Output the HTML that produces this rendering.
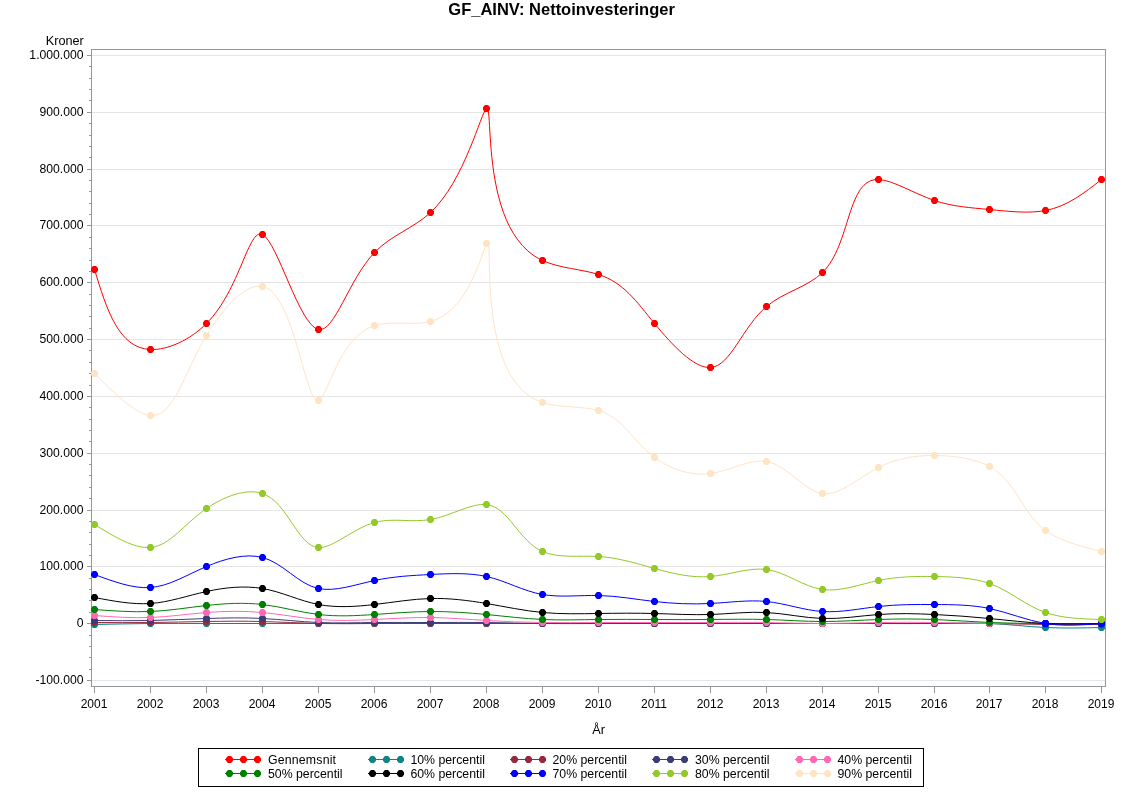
<!DOCTYPE html>
<html lang="da"><head><meta charset="utf-8"><title>GF_AINV: Nettoinvesteringer</title>
<style>html,body{margin:0;padding:0;background:#fff}body{width:1122px;height:793px;overflow:hidden}svg{display:block}text{font-family:"Liberation Sans",Arial,Helvetica,sans-serif;font-size:12.3px;fill:#000}.a{font-size:12.7px}.x{font-size:12px}.y{font-size:12.2px}.t{font-size:16.5px;font-weight:bold}.s path{fill:none;stroke-width:1;stroke-linejoin:round}.s path.m,path.m{fill:inherit;stroke:none}</style>
</head><body>
<svg width="1122" height="793" viewBox="0 0 1122 793">
<rect width="1122" height="793" fill="#fff"/>
<text class="t" x="561.6" y="14.5" text-anchor="middle">GF_AINV: Nettoinvesteringer</text>
<text x="83.8" y="45" text-anchor="end" class="a">Kroner</text>
<path d="M92,55.5H1105M92,112.5H1105M92,169.5H1105M92,225.5H1105M92,282.5H1105M92,339.5H1105M92,396.5H1105M92,453.5H1105M92,510.5H1105M92,566.5H1105M92,623.5H1105M92,680.5H1105" stroke="#e5e5e5" stroke-width="1" fill="none" shape-rendering="crispEdges"/>
<path d="M87,55.5H92M89,66.5H92M89,78.5H92M89,89.5H92M89,100.5H92M87,112.5H92M89,123.5H92M89,135.5H92M89,146.5H92M89,157.5H92M87,169.5H92M89,180.5H92M89,191.5H92M89,203.5H92M89,214.5H92M87,225.5H92M89,237.5H92M89,248.5H92M89,260.5H92M89,271.5H92M87,282.5H92M89,294.5H92M89,305.5H92M89,316.5H92M89,328.5H92M87,339.5H92M89,350.5H92M89,362.5H92M89,373.5H92M89,385.5H92M87,396.5H92M89,407.5H92M89,419.5H92M89,430.5H92M89,441.5H92M87,453.5H92M89,464.5H92M89,475.5H92M89,487.5H92M89,498.5H92M87,510.5H92M89,521.5H92M89,532.5H92M89,544.5H92M89,555.5H92M87,566.5H92M89,578.5H92M89,589.5H92M89,600.5H92M89,612.5H92M87,623.5H92M89,635.5H92M89,646.5H92M89,657.5H92M89,669.5H92M87,680.5H92M94.5,687V693M150.5,687V693M206.5,687V693M262.5,687V693M318.5,687V693M374.5,687V693M430.5,687V693M486.5,687V693M542.5,687V693M598.5,687V693M654.5,687V693M710.5,687V693M766.5,687V693M822.5,687V693M878.5,687V693M934.5,687V693M989.5,687V693M1045.5,687V693M1101.5,687V693" stroke="#92999e" stroke-width="1" fill="none" shape-rendering="crispEdges"/>
<rect x="91.5" y="49.5" width="1014" height="637" fill="none" stroke="#92999e" stroke-width="1" shape-rendering="crispEdges"/>
<text class="y" x="83.6" y="59" text-anchor="end">1.000.000</text>
<text class="y" x="83.6" y="116" text-anchor="end">900.000</text>
<text class="y" x="83.6" y="173" text-anchor="end">800.000</text>
<text class="y" x="83.6" y="229" text-anchor="end">700.000</text>
<text class="y" x="83.6" y="286" text-anchor="end">600.000</text>
<text class="y" x="83.6" y="343" text-anchor="end">500.000</text>
<text class="y" x="83.6" y="400" text-anchor="end">400.000</text>
<text class="y" x="83.6" y="457" text-anchor="end">300.000</text>
<text class="y" x="83.6" y="514" text-anchor="end">200.000</text>
<text class="y" x="83.6" y="570" text-anchor="end">100.000</text>
<text class="y" x="83.6" y="627" text-anchor="end">0</text>
<text class="y" x="83.6" y="684" text-anchor="end">-100.000</text>
<text class="x" x="94" y="708" text-anchor="middle">2001</text>
<text class="x" x="150" y="708" text-anchor="middle">2002</text>
<text class="x" x="206" y="708" text-anchor="middle">2003</text>
<text class="x" x="262" y="708" text-anchor="middle">2004</text>
<text class="x" x="318" y="708" text-anchor="middle">2005</text>
<text class="x" x="374" y="708" text-anchor="middle">2006</text>
<text class="x" x="430" y="708" text-anchor="middle">2007</text>
<text class="x" x="486" y="708" text-anchor="middle">2008</text>
<text class="x" x="542" y="708" text-anchor="middle">2009</text>
<text class="x" x="598" y="708" text-anchor="middle">2010</text>
<text class="x" x="654" y="708" text-anchor="middle">2011</text>
<text class="x" x="710" y="708" text-anchor="middle">2012</text>
<text class="x" x="766" y="708" text-anchor="middle">2013</text>
<text class="x" x="822" y="708" text-anchor="middle">2014</text>
<text class="x" x="878" y="708" text-anchor="middle">2015</text>
<text class="x" x="934" y="708" text-anchor="middle">2016</text>
<text class="x" x="989" y="708" text-anchor="middle">2017</text>
<text class="x" x="1045" y="708" text-anchor="middle">2018</text>
<text class="x" x="1101" y="708" text-anchor="middle">2019</text>
<text x="598.6" y="734" text-anchor="middle" class="a">År</text>
<g class="s" stroke="#FF0000" fill="#FF0000">
<path d="M94.5,269.5C106.5,308.9 118.5,348.3 150.5,349.5C167.5,350.2 190,340.1 206.5,323.5C240.4,289.4 248.3,227.6 262.5,234.5C277.5,241.8 299.4,325.6 318.5,329.5C334.6,332.8 348.6,279.5 374.5,252.5C391.3,235 413.2,228.5 430.5,212.5C464.7,180.8 481.2,111.6 486.5,108.5C494,104.1 479.5,231.4 542.5,260.5C559.3,268.3 581.7,269.1 598.5,274.5C623.7,282.6 636.2,301.2 654.5,323.5C671.7,344.4 694,368.6 710.5,367.5C730.8,366.2 742.4,326.8 766.5,306.5C783.8,291.9 807.6,287.2 822.5,272.5C851.3,244.1 846.6,178.5 878.5,179.5C892.6,180 913.9,193.5 934.5,200.5C952.8,206.7 970.5,207.7 989.5,209.5C1008.3,211.3 1028.4,213.8 1045.5,210.5C1067.3,206.4 1084.4,192.9 1101.5,179.5"/>
<path class="m" d="M92.9,266h3.2l1.9,2.2v2.6l-1.9,2.2h-3.2l-1.9,-2.2v-2.6zM148.9,346h3.2l1.9,2.2v2.6l-1.9,2.2h-3.2l-1.9,-2.2v-2.6zM204.9,320h3.2l1.9,2.2v2.6l-1.9,2.2h-3.2l-1.9,-2.2v-2.6zM260.9,231h3.2l1.9,2.2v2.6l-1.9,2.2h-3.2l-1.9,-2.2v-2.6zM316.9,326h3.2l1.9,2.2v2.6l-1.9,2.2h-3.2l-1.9,-2.2v-2.6zM372.9,249h3.2l1.9,2.2v2.6l-1.9,2.2h-3.2l-1.9,-2.2v-2.6zM428.9,209h3.2l1.9,2.2v2.6l-1.9,2.2h-3.2l-1.9,-2.2v-2.6zM484.9,105h3.2l1.9,2.2v2.6l-1.9,2.2h-3.2l-1.9,-2.2v-2.6zM540.9,257h3.2l1.9,2.2v2.6l-1.9,2.2h-3.2l-1.9,-2.2v-2.6zM596.9,271h3.2l1.9,2.2v2.6l-1.9,2.2h-3.2l-1.9,-2.2v-2.6zM652.9,320h3.2l1.9,2.2v2.6l-1.9,2.2h-3.2l-1.9,-2.2v-2.6zM708.9,364h3.2l1.9,2.2v2.6l-1.9,2.2h-3.2l-1.9,-2.2v-2.6zM764.9,303h3.2l1.9,2.2v2.6l-1.9,2.2h-3.2l-1.9,-2.2v-2.6zM820.9,269h3.2l1.9,2.2v2.6l-1.9,2.2h-3.2l-1.9,-2.2v-2.6zM876.9,176h3.2l1.9,2.2v2.6l-1.9,2.2h-3.2l-1.9,-2.2v-2.6zM932.9,197h3.2l1.9,2.2v2.6l-1.9,2.2h-3.2l-1.9,-2.2v-2.6zM987.9,206h3.2l1.9,2.2v2.6l-1.9,2.2h-3.2l-1.9,-2.2v-2.6zM1043.9,207h3.2l1.9,2.2v2.6l-1.9,2.2h-3.2l-1.9,-2.2v-2.6zM1099.9,176h3.2l1.9,2.2v2.6l-1.9,2.2h-3.2l-1.9,-2.2v-2.6z"/>
</g>
<g class="s" stroke="#0A8686" fill="#0A8686">
<path d="M94.5,624.5C113.2,624.1 131.8,623.7 150.5,623.5C169.2,623.3 187.8,623.5 206.5,623.5C225.2,623.5 243.8,623.5 262.5,623.5C281.2,623.5 299.8,623.5 318.5,623.5C337.2,623.5 355.8,623.5 374.5,623.5C393.2,623.5 411.8,623.5 430.5,623.5C449.2,623.5 467.8,623.5 486.5,623.5C505.2,623.5 523.8,623.5 542.5,623.5C561.2,623.5 579.8,623.5 598.5,623.5C617.2,623.5 635.8,623.5 654.5,623.5C673.2,623.5 691.8,623.5 710.5,623.5C729.2,623.5 747.8,623.5 766.5,623.5C785.2,623.5 803.8,623.5 822.5,623.5C841.2,623.5 859.8,623.4 878.5,623.5C897.2,623.6 915.8,623.7 934.5,623.5C952.8,623.3 971.2,622.7 989.5,623.5C1008.2,624.3 1026.8,626.6 1045.5,627.5C1064.1,628.4 1082.8,628 1101.5,627.5"/>
<path class="m" d="M92.9,621h3.2l1.9,2.2v2.6l-1.9,2.2h-3.2l-1.9,-2.2v-2.6zM148.9,620h3.2l1.9,2.2v2.6l-1.9,2.2h-3.2l-1.9,-2.2v-2.6zM204.9,620h3.2l1.9,2.2v2.6l-1.9,2.2h-3.2l-1.9,-2.2v-2.6zM260.9,620h3.2l1.9,2.2v2.6l-1.9,2.2h-3.2l-1.9,-2.2v-2.6zM316.9,620h3.2l1.9,2.2v2.6l-1.9,2.2h-3.2l-1.9,-2.2v-2.6zM372.9,620h3.2l1.9,2.2v2.6l-1.9,2.2h-3.2l-1.9,-2.2v-2.6zM428.9,620h3.2l1.9,2.2v2.6l-1.9,2.2h-3.2l-1.9,-2.2v-2.6zM484.9,620h3.2l1.9,2.2v2.6l-1.9,2.2h-3.2l-1.9,-2.2v-2.6zM540.9,620h3.2l1.9,2.2v2.6l-1.9,2.2h-3.2l-1.9,-2.2v-2.6zM596.9,620h3.2l1.9,2.2v2.6l-1.9,2.2h-3.2l-1.9,-2.2v-2.6zM652.9,620h3.2l1.9,2.2v2.6l-1.9,2.2h-3.2l-1.9,-2.2v-2.6zM708.9,620h3.2l1.9,2.2v2.6l-1.9,2.2h-3.2l-1.9,-2.2v-2.6zM764.9,620h3.2l1.9,2.2v2.6l-1.9,2.2h-3.2l-1.9,-2.2v-2.6zM820.9,620h3.2l1.9,2.2v2.6l-1.9,2.2h-3.2l-1.9,-2.2v-2.6zM876.9,620h3.2l1.9,2.2v2.6l-1.9,2.2h-3.2l-1.9,-2.2v-2.6zM932.9,620h3.2l1.9,2.2v2.6l-1.9,2.2h-3.2l-1.9,-2.2v-2.6zM987.9,620h3.2l1.9,2.2v2.6l-1.9,2.2h-3.2l-1.9,-2.2v-2.6zM1043.9,624h3.2l1.9,2.2v2.6l-1.9,2.2h-3.2l-1.9,-2.2v-2.6zM1099.9,624h3.2l1.9,2.2v2.6l-1.9,2.2h-3.2l-1.9,-2.2v-2.6z"/>
</g>
<g class="s" stroke="#9A283C" fill="#9A283C">
<path d="M94.5,622.5C113.2,622.6 131.8,622.7 150.5,622.5C169.2,622.3 187.8,621.8 206.5,621.5C225.2,621.2 243.8,621 262.5,621.5C281.2,622 299.8,623.1 318.5,623.5C337.2,623.9 355.8,623.6 374.5,623.5C393.2,623.4 411.8,623.5 430.5,623.5C449.2,623.5 467.8,623.5 486.5,623.5C505.2,623.5 523.8,623.5 542.5,623.5C561.2,623.5 579.8,623.5 598.5,623.5C617.2,623.5 635.8,623.5 654.5,623.5C673.2,623.5 691.8,623.5 710.5,623.5C729.2,623.5 747.8,623.5 766.5,623.5C785.2,623.5 803.8,623.5 822.5,623.5C841.2,623.5 859.8,623.5 878.5,623.5C897.2,623.5 915.8,623.6 934.5,623.5C952.8,623.4 971.2,623.3 989.5,623.5C1008.2,623.7 1026.8,624.3 1045.5,624.5C1064.2,624.7 1082.8,624.6 1101.5,624.5"/>
<path class="m" d="M92.9,619h3.2l1.9,2.2v2.6l-1.9,2.2h-3.2l-1.9,-2.2v-2.6zM148.9,619h3.2l1.9,2.2v2.6l-1.9,2.2h-3.2l-1.9,-2.2v-2.6zM204.9,618h3.2l1.9,2.2v2.6l-1.9,2.2h-3.2l-1.9,-2.2v-2.6zM260.9,618h3.2l1.9,2.2v2.6l-1.9,2.2h-3.2l-1.9,-2.2v-2.6zM316.9,620h3.2l1.9,2.2v2.6l-1.9,2.2h-3.2l-1.9,-2.2v-2.6zM372.9,620h3.2l1.9,2.2v2.6l-1.9,2.2h-3.2l-1.9,-2.2v-2.6zM428.9,620h3.2l1.9,2.2v2.6l-1.9,2.2h-3.2l-1.9,-2.2v-2.6zM484.9,620h3.2l1.9,2.2v2.6l-1.9,2.2h-3.2l-1.9,-2.2v-2.6zM540.9,620h3.2l1.9,2.2v2.6l-1.9,2.2h-3.2l-1.9,-2.2v-2.6zM596.9,620h3.2l1.9,2.2v2.6l-1.9,2.2h-3.2l-1.9,-2.2v-2.6zM652.9,620h3.2l1.9,2.2v2.6l-1.9,2.2h-3.2l-1.9,-2.2v-2.6zM708.9,620h3.2l1.9,2.2v2.6l-1.9,2.2h-3.2l-1.9,-2.2v-2.6zM764.9,620h3.2l1.9,2.2v2.6l-1.9,2.2h-3.2l-1.9,-2.2v-2.6zM820.9,620h3.2l1.9,2.2v2.6l-1.9,2.2h-3.2l-1.9,-2.2v-2.6zM876.9,620h3.2l1.9,2.2v2.6l-1.9,2.2h-3.2l-1.9,-2.2v-2.6zM932.9,620h3.2l1.9,2.2v2.6l-1.9,2.2h-3.2l-1.9,-2.2v-2.6zM987.9,620h3.2l1.9,2.2v2.6l-1.9,2.2h-3.2l-1.9,-2.2v-2.6zM1043.9,621h3.2l1.9,2.2v2.6l-1.9,2.2h-3.2l-1.9,-2.2v-2.6zM1099.9,621h3.2l1.9,2.2v2.6l-1.9,2.2h-3.2l-1.9,-2.2v-2.6z"/>
</g>
<g class="s" stroke="#3C3C78" fill="#3C3C78">
<path d="M94.5,620.5C113.2,620.7 131.9,620.9 150.5,620.5C169.2,620.1 187.8,619.1 206.5,618.5C225.2,617.9 243.9,617.5 262.5,618.5C281.2,619.5 299.8,621.7 318.5,622.5C337.1,623.3 355.8,622.7 374.5,622.5C393.2,622.3 411.8,622.5 430.5,622.5C449.2,622.5 467.8,622.3 486.5,622.5C505.2,622.7 523.8,623.3 542.5,623.5C561.2,623.7 579.8,623.6 598.5,623.5C617.2,623.4 635.8,623.5 654.5,623.5C673.2,623.5 691.8,623.5 710.5,623.5C729.2,623.5 747.8,623.5 766.5,623.5C785.2,623.5 803.8,623.5 822.5,623.5C841.2,623.5 859.8,623.5 878.5,623.5C897.2,623.5 915.8,623.5 934.5,623.5C952.8,623.5 971.2,623.5 989.5,623.5C1008.2,623.5 1026.8,623.5 1045.5,623.5C1064.2,623.5 1082.8,623.5 1101.5,623.5"/>
<path class="m" d="M92.9,617h3.2l1.9,2.2v2.6l-1.9,2.2h-3.2l-1.9,-2.2v-2.6zM148.9,617h3.2l1.9,2.2v2.6l-1.9,2.2h-3.2l-1.9,-2.2v-2.6zM204.9,615h3.2l1.9,2.2v2.6l-1.9,2.2h-3.2l-1.9,-2.2v-2.6zM260.9,615h3.2l1.9,2.2v2.6l-1.9,2.2h-3.2l-1.9,-2.2v-2.6zM316.9,619h3.2l1.9,2.2v2.6l-1.9,2.2h-3.2l-1.9,-2.2v-2.6zM372.9,619h3.2l1.9,2.2v2.6l-1.9,2.2h-3.2l-1.9,-2.2v-2.6zM428.9,619h3.2l1.9,2.2v2.6l-1.9,2.2h-3.2l-1.9,-2.2v-2.6zM484.9,619h3.2l1.9,2.2v2.6l-1.9,2.2h-3.2l-1.9,-2.2v-2.6zM540.9,620h3.2l1.9,2.2v2.6l-1.9,2.2h-3.2l-1.9,-2.2v-2.6zM596.9,620h3.2l1.9,2.2v2.6l-1.9,2.2h-3.2l-1.9,-2.2v-2.6zM652.9,620h3.2l1.9,2.2v2.6l-1.9,2.2h-3.2l-1.9,-2.2v-2.6zM708.9,620h3.2l1.9,2.2v2.6l-1.9,2.2h-3.2l-1.9,-2.2v-2.6zM764.9,620h3.2l1.9,2.2v2.6l-1.9,2.2h-3.2l-1.9,-2.2v-2.6zM820.9,620h3.2l1.9,2.2v2.6l-1.9,2.2h-3.2l-1.9,-2.2v-2.6zM876.9,620h3.2l1.9,2.2v2.6l-1.9,2.2h-3.2l-1.9,-2.2v-2.6zM932.9,620h3.2l1.9,2.2v2.6l-1.9,2.2h-3.2l-1.9,-2.2v-2.6zM987.9,620h3.2l1.9,2.2v2.6l-1.9,2.2h-3.2l-1.9,-2.2v-2.6zM1043.9,620h3.2l1.9,2.2v2.6l-1.9,2.2h-3.2l-1.9,-2.2v-2.6zM1099.9,620h3.2l1.9,2.2v2.6l-1.9,2.2h-3.2l-1.9,-2.2v-2.6z"/>
</g>
<g class="s" stroke="#FF69B4" fill="#FF69B4">
<path d="M94.5,615.5C113.2,616.9 131.9,618.2 150.5,617.5C169.2,616.8 187.7,614 206.5,612.5C225.1,611 244,610.8 262.5,612.5C281.3,614.2 299.7,618 318.5,619.5C337,621 355.8,620.4 374.5,619.5C393.2,618.6 411.9,617.3 430.5,617.5C449.2,617.7 467.8,619.4 486.5,620.5C505.1,621.6 523.8,622.3 542.5,622.5C561.2,622.7 579.8,622.6 598.5,622.5C617.2,622.4 635.8,622.5 654.5,622.5C673.2,622.5 691.8,622.6 710.5,622.5C729.2,622.4 747.8,622.2 766.5,622.5C785.2,622.8 803.8,623.5 822.5,623.5C841.2,623.5 859.8,622.8 878.5,622.5C897.2,622.2 915.8,622.2 934.5,622.5C952.8,622.8 971.2,623.3 989.5,623.5C1008.2,623.7 1026.8,623.6 1045.5,623.5C1064.2,623.4 1082.8,623.5 1101.5,623.5"/>
<path class="m" d="M92.9,612h3.2l1.9,2.2v2.6l-1.9,2.2h-3.2l-1.9,-2.2v-2.6zM148.9,614h3.2l1.9,2.2v2.6l-1.9,2.2h-3.2l-1.9,-2.2v-2.6zM204.9,609h3.2l1.9,2.2v2.6l-1.9,2.2h-3.2l-1.9,-2.2v-2.6zM260.9,609h3.2l1.9,2.2v2.6l-1.9,2.2h-3.2l-1.9,-2.2v-2.6zM316.9,616h3.2l1.9,2.2v2.6l-1.9,2.2h-3.2l-1.9,-2.2v-2.6zM372.9,616h3.2l1.9,2.2v2.6l-1.9,2.2h-3.2l-1.9,-2.2v-2.6zM428.9,614h3.2l1.9,2.2v2.6l-1.9,2.2h-3.2l-1.9,-2.2v-2.6zM484.9,617h3.2l1.9,2.2v2.6l-1.9,2.2h-3.2l-1.9,-2.2v-2.6zM540.9,619h3.2l1.9,2.2v2.6l-1.9,2.2h-3.2l-1.9,-2.2v-2.6zM596.9,619h3.2l1.9,2.2v2.6l-1.9,2.2h-3.2l-1.9,-2.2v-2.6zM652.9,619h3.2l1.9,2.2v2.6l-1.9,2.2h-3.2l-1.9,-2.2v-2.6zM708.9,619h3.2l1.9,2.2v2.6l-1.9,2.2h-3.2l-1.9,-2.2v-2.6zM764.9,619h3.2l1.9,2.2v2.6l-1.9,2.2h-3.2l-1.9,-2.2v-2.6zM820.9,620h3.2l1.9,2.2v2.6l-1.9,2.2h-3.2l-1.9,-2.2v-2.6zM876.9,619h3.2l1.9,2.2v2.6l-1.9,2.2h-3.2l-1.9,-2.2v-2.6zM932.9,619h3.2l1.9,2.2v2.6l-1.9,2.2h-3.2l-1.9,-2.2v-2.6zM987.9,620h3.2l1.9,2.2v2.6l-1.9,2.2h-3.2l-1.9,-2.2v-2.6zM1043.9,620h3.2l1.9,2.2v2.6l-1.9,2.2h-3.2l-1.9,-2.2v-2.6zM1099.9,620h3.2l1.9,2.2v2.6l-1.9,2.2h-3.2l-1.9,-2.2v-2.6z"/>
</g>
<g class="s" stroke="#008000" fill="#008000">
<path d="M94.5,609.5C113.2,610.9 132,612.3 150.5,611.5C169.2,610.7 187.7,607.6 206.5,605.5C225.1,603.4 244.2,602.4 262.5,604.5C281.4,606.7 299.6,612.2 318.5,614.5C336.8,616.7 355.8,615.8 374.5,614.5C393.3,613.2 411.8,611.6 430.5,611.5C449.2,611.4 467.9,612.7 486.5,614.5C505.2,616.3 523.8,618.6 542.5,619.5C561.1,620.3 579.8,619.7 598.5,619.5C617.2,619.3 635.8,619.4 654.5,619.5C673.2,619.6 691.8,619.7 710.5,619.5C729.2,619.3 747.8,619 766.5,619.5C785.2,620 803.8,621.5 822.5,621.5C841.2,621.5 859.8,620.2 878.5,619.5C897.2,618.8 915.9,618.8 934.5,619.5C952.9,620.2 971.2,621.7 989.5,622.5C1008.1,623.3 1026.8,623.4 1045.5,623.5C1064.2,623.6 1082.8,623.5 1101.5,623.5"/>
<path class="m" d="M92.9,606h3.2l1.9,2.2v2.6l-1.9,2.2h-3.2l-1.9,-2.2v-2.6zM148.9,608h3.2l1.9,2.2v2.6l-1.9,2.2h-3.2l-1.9,-2.2v-2.6zM204.9,602h3.2l1.9,2.2v2.6l-1.9,2.2h-3.2l-1.9,-2.2v-2.6zM260.9,601h3.2l1.9,2.2v2.6l-1.9,2.2h-3.2l-1.9,-2.2v-2.6zM316.9,611h3.2l1.9,2.2v2.6l-1.9,2.2h-3.2l-1.9,-2.2v-2.6zM372.9,611h3.2l1.9,2.2v2.6l-1.9,2.2h-3.2l-1.9,-2.2v-2.6zM428.9,608h3.2l1.9,2.2v2.6l-1.9,2.2h-3.2l-1.9,-2.2v-2.6zM484.9,611h3.2l1.9,2.2v2.6l-1.9,2.2h-3.2l-1.9,-2.2v-2.6zM540.9,616h3.2l1.9,2.2v2.6l-1.9,2.2h-3.2l-1.9,-2.2v-2.6zM596.9,616h3.2l1.9,2.2v2.6l-1.9,2.2h-3.2l-1.9,-2.2v-2.6zM652.9,616h3.2l1.9,2.2v2.6l-1.9,2.2h-3.2l-1.9,-2.2v-2.6zM708.9,616h3.2l1.9,2.2v2.6l-1.9,2.2h-3.2l-1.9,-2.2v-2.6zM764.9,616h3.2l1.9,2.2v2.6l-1.9,2.2h-3.2l-1.9,-2.2v-2.6zM820.9,618h3.2l1.9,2.2v2.6l-1.9,2.2h-3.2l-1.9,-2.2v-2.6zM876.9,616h3.2l1.9,2.2v2.6l-1.9,2.2h-3.2l-1.9,-2.2v-2.6zM932.9,616h3.2l1.9,2.2v2.6l-1.9,2.2h-3.2l-1.9,-2.2v-2.6zM987.9,619h3.2l1.9,2.2v2.6l-1.9,2.2h-3.2l-1.9,-2.2v-2.6zM1043.9,620h3.2l1.9,2.2v2.6l-1.9,2.2h-3.2l-1.9,-2.2v-2.6zM1099.9,620h3.2l1.9,2.2v2.6l-1.9,2.2h-3.2l-1.9,-2.2v-2.6z"/>
</g>
<g class="s" stroke="#000000" fill="#000000">
<path d="M94.5,597.5C113.4,601.1 132.3,604.7 150.5,603.5C169.3,602.2 187.3,595.7 206.5,591.5C225,587.4 244.5,585.5 262.5,588.5C281.8,591.8 299.3,600.8 318.5,604.5C336.3,607.9 355.7,606.7 374.5,604.5C393.5,602.3 411.8,599 430.5,598.5C449.1,598 468,600.4 486.5,603.5C505.3,606.7 523.6,610.7 542.5,612.5C560.9,614.2 579.8,613.8 598.5,613.5C617.2,613.2 635.9,613 654.5,613.5C673.1,614 691.8,615.1 710.5,614.5C729.2,613.9 747.9,611.5 766.5,612.5C785.2,613.5 803.8,617.9 822.5,618.5C841.1,619.1 859.8,615.9 878.5,614.5C897.2,613.1 915.9,613.6 934.5,614.5C952.9,615.4 971.2,616.7 989.5,618.5C1008.2,620.3 1026.8,622.6 1045.5,623.5C1064.1,624.4 1082.8,624 1101.5,623.5"/>
<path class="m" d="M92.9,594h3.2l1.9,2.2v2.6l-1.9,2.2h-3.2l-1.9,-2.2v-2.6zM148.9,600h3.2l1.9,2.2v2.6l-1.9,2.2h-3.2l-1.9,-2.2v-2.6zM204.9,588h3.2l1.9,2.2v2.6l-1.9,2.2h-3.2l-1.9,-2.2v-2.6zM260.9,585h3.2l1.9,2.2v2.6l-1.9,2.2h-3.2l-1.9,-2.2v-2.6zM316.9,601h3.2l1.9,2.2v2.6l-1.9,2.2h-3.2l-1.9,-2.2v-2.6zM372.9,601h3.2l1.9,2.2v2.6l-1.9,2.2h-3.2l-1.9,-2.2v-2.6zM428.9,595h3.2l1.9,2.2v2.6l-1.9,2.2h-3.2l-1.9,-2.2v-2.6zM484.9,600h3.2l1.9,2.2v2.6l-1.9,2.2h-3.2l-1.9,-2.2v-2.6zM540.9,609h3.2l1.9,2.2v2.6l-1.9,2.2h-3.2l-1.9,-2.2v-2.6zM596.9,610h3.2l1.9,2.2v2.6l-1.9,2.2h-3.2l-1.9,-2.2v-2.6zM652.9,610h3.2l1.9,2.2v2.6l-1.9,2.2h-3.2l-1.9,-2.2v-2.6zM708.9,611h3.2l1.9,2.2v2.6l-1.9,2.2h-3.2l-1.9,-2.2v-2.6zM764.9,609h3.2l1.9,2.2v2.6l-1.9,2.2h-3.2l-1.9,-2.2v-2.6zM820.9,615h3.2l1.9,2.2v2.6l-1.9,2.2h-3.2l-1.9,-2.2v-2.6zM876.9,611h3.2l1.9,2.2v2.6l-1.9,2.2h-3.2l-1.9,-2.2v-2.6zM932.9,611h3.2l1.9,2.2v2.6l-1.9,2.2h-3.2l-1.9,-2.2v-2.6zM987.9,615h3.2l1.9,2.2v2.6l-1.9,2.2h-3.2l-1.9,-2.2v-2.6zM1043.9,620h3.2l1.9,2.2v2.6l-1.9,2.2h-3.2l-1.9,-2.2v-2.6zM1099.9,620h3.2l1.9,2.2v2.6l-1.9,2.2h-3.2l-1.9,-2.2v-2.6z"/>
</g>
<g class="s" stroke="#0000FF" fill="#0000FF">
<path d="M94.5,574.5C113.7,581.6 132.9,588.8 150.5,587.5C169.4,586.1 186.3,575.1 206.5,566.5C224.8,558.7 245.7,553 262.5,557.5C283.4,563 298,584.2 318.5,588.5C335,592 355.3,584.6 374.5,580.5C393.6,576.4 411.6,575.5 430.5,574.5C449.2,573.5 468.8,572.6 486.5,576.5C505.9,580.8 523.1,591.1 542.5,594.5C560.2,597.6 579.7,595.1 598.5,595.5C617.5,595.9 635.9,599.4 654.5,601.5C672.9,603.6 691.7,604.5 710.5,603.5C729.3,602.5 748.2,599.7 766.5,601.5C785.4,603.4 803.7,610.3 822.5,611.5C840.9,612.7 859.7,608.6 878.5,606.5C897.1,604.4 915.7,604.4 934.5,604.5C953,604.6 971.9,604.8 989.5,608.5C1008.6,612.5 1026.4,620.4 1045.5,623.5C1063.4,626.4 1082.4,624.9 1101.5,623.5"/>
<path class="m" d="M92.9,571h3.2l1.9,2.2v2.6l-1.9,2.2h-3.2l-1.9,-2.2v-2.6zM148.9,584h3.2l1.9,2.2v2.6l-1.9,2.2h-3.2l-1.9,-2.2v-2.6zM204.9,563h3.2l1.9,2.2v2.6l-1.9,2.2h-3.2l-1.9,-2.2v-2.6zM260.9,554h3.2l1.9,2.2v2.6l-1.9,2.2h-3.2l-1.9,-2.2v-2.6zM316.9,585h3.2l1.9,2.2v2.6l-1.9,2.2h-3.2l-1.9,-2.2v-2.6zM372.9,577h3.2l1.9,2.2v2.6l-1.9,2.2h-3.2l-1.9,-2.2v-2.6zM428.9,571h3.2l1.9,2.2v2.6l-1.9,2.2h-3.2l-1.9,-2.2v-2.6zM484.9,573h3.2l1.9,2.2v2.6l-1.9,2.2h-3.2l-1.9,-2.2v-2.6zM540.9,591h3.2l1.9,2.2v2.6l-1.9,2.2h-3.2l-1.9,-2.2v-2.6zM596.9,592h3.2l1.9,2.2v2.6l-1.9,2.2h-3.2l-1.9,-2.2v-2.6zM652.9,598h3.2l1.9,2.2v2.6l-1.9,2.2h-3.2l-1.9,-2.2v-2.6zM708.9,600h3.2l1.9,2.2v2.6l-1.9,2.2h-3.2l-1.9,-2.2v-2.6zM764.9,598h3.2l1.9,2.2v2.6l-1.9,2.2h-3.2l-1.9,-2.2v-2.6zM820.9,608h3.2l1.9,2.2v2.6l-1.9,2.2h-3.2l-1.9,-2.2v-2.6zM876.9,603h3.2l1.9,2.2v2.6l-1.9,2.2h-3.2l-1.9,-2.2v-2.6zM932.9,601h3.2l1.9,2.2v2.6l-1.9,2.2h-3.2l-1.9,-2.2v-2.6zM987.9,605h3.2l1.9,2.2v2.6l-1.9,2.2h-3.2l-1.9,-2.2v-2.6zM1043.9,620h3.2l1.9,2.2v2.6l-1.9,2.2h-3.2l-1.9,-2.2v-2.6zM1099.9,620h3.2l1.9,2.2v2.6l-1.9,2.2h-3.2l-1.9,-2.2v-2.6z"/>
</g>
<g class="s" stroke="#93CA2A" fill="#93CA2A">
<path d="M94.5,524.5C114.5,536.7 134.4,548.9 150.5,547.5C170,545.8 183.8,524.2 206.5,508.5C223.8,496.5 246.4,488 262.5,493.5C288,502.3 297.6,546.3 318.5,547.5C333.1,548.4 353.2,528.3 374.5,522.5C392.5,517.5 411.4,522.8 430.5,519.5C450.8,516 471.4,502.8 486.5,504.5C508.4,507 518.6,540.9 542.5,551.5C558,558.4 579.3,555.4 598.5,556.5C618.4,557.7 636,563.3 654.5,568.5C672.5,573.5 691.4,578.1 710.5,576.5C729.5,574.9 748.9,567.2 766.5,569.5C785.9,572 803.2,586.8 822.5,589.5C840.2,592 859.5,584.4 878.5,580.5C897.1,576.6 915.4,576.2 934.5,576.5C953.4,576.8 973.1,577.7 989.5,583.5C1009.9,590.7 1025.3,605.5 1045.5,612.5C1062,618.3 1081.8,618.9 1101.5,619.5"/>
<path class="m" d="M92.9,521h3.2l1.9,2.2v2.6l-1.9,2.2h-3.2l-1.9,-2.2v-2.6zM148.9,544h3.2l1.9,2.2v2.6l-1.9,2.2h-3.2l-1.9,-2.2v-2.6zM204.9,505h3.2l1.9,2.2v2.6l-1.9,2.2h-3.2l-1.9,-2.2v-2.6zM260.9,490h3.2l1.9,2.2v2.6l-1.9,2.2h-3.2l-1.9,-2.2v-2.6zM316.9,544h3.2l1.9,2.2v2.6l-1.9,2.2h-3.2l-1.9,-2.2v-2.6zM372.9,519h3.2l1.9,2.2v2.6l-1.9,2.2h-3.2l-1.9,-2.2v-2.6zM428.9,516h3.2l1.9,2.2v2.6l-1.9,2.2h-3.2l-1.9,-2.2v-2.6zM484.9,501h3.2l1.9,2.2v2.6l-1.9,2.2h-3.2l-1.9,-2.2v-2.6zM540.9,548h3.2l1.9,2.2v2.6l-1.9,2.2h-3.2l-1.9,-2.2v-2.6zM596.9,553h3.2l1.9,2.2v2.6l-1.9,2.2h-3.2l-1.9,-2.2v-2.6zM652.9,565h3.2l1.9,2.2v2.6l-1.9,2.2h-3.2l-1.9,-2.2v-2.6zM708.9,573h3.2l1.9,2.2v2.6l-1.9,2.2h-3.2l-1.9,-2.2v-2.6zM764.9,566h3.2l1.9,2.2v2.6l-1.9,2.2h-3.2l-1.9,-2.2v-2.6zM820.9,586h3.2l1.9,2.2v2.6l-1.9,2.2h-3.2l-1.9,-2.2v-2.6zM876.9,577h3.2l1.9,2.2v2.6l-1.9,2.2h-3.2l-1.9,-2.2v-2.6zM932.9,573h3.2l1.9,2.2v2.6l-1.9,2.2h-3.2l-1.9,-2.2v-2.6zM987.9,580h3.2l1.9,2.2v2.6l-1.9,2.2h-3.2l-1.9,-2.2v-2.6zM1043.9,609h3.2l1.9,2.2v2.6l-1.9,2.2h-3.2l-1.9,-2.2v-2.6zM1099.9,616h3.2l1.9,2.2v2.6l-1.9,2.2h-3.2l-1.9,-2.2v-2.6z"/>
</g>
<g class="s" stroke="#FFE4C4" fill="#FFE4C4">
<path d="M94.5,373.5C115,393.8 135.5,414.1 150.5,415.5C173.6,417.6 183.4,374.3 206.5,335.5C222.8,308.1 245.6,283 262.5,286.5C294.8,293.2 305.1,405 318.5,400.5C327.9,397.3 338.9,336.6 374.5,325.5C391.2,320.3 413.4,325.9 430.5,321.5C468.2,311.7 481.8,253.1 486.5,243.5C495.3,225.5 473.1,379.7 542.5,402.5C559.6,408.1 582.3,405.8 598.5,410.5C623.2,417.7 632.9,441.4 654.5,457.5C669.5,468.7 690.1,476.2 710.5,473.5C730.2,470.9 749.7,458.7 766.5,461.5C787.2,464.9 804,491 822.5,493.5C839.7,495.8 858.5,477.8 878.5,467.5C896,458.5 914.5,455.4 934.5,455.5C954,455.5 974.9,458.6 989.5,466.5C1016.6,481.3 1021.6,513.1 1045.5,530.5C1059.7,540.9 1080.6,546.2 1101.5,551.5"/>
<path class="m" d="M92.9,370h3.2l1.9,2.2v2.6l-1.9,2.2h-3.2l-1.9,-2.2v-2.6zM148.9,412h3.2l1.9,2.2v2.6l-1.9,2.2h-3.2l-1.9,-2.2v-2.6zM204.9,332h3.2l1.9,2.2v2.6l-1.9,2.2h-3.2l-1.9,-2.2v-2.6zM260.9,283h3.2l1.9,2.2v2.6l-1.9,2.2h-3.2l-1.9,-2.2v-2.6zM316.9,397h3.2l1.9,2.2v2.6l-1.9,2.2h-3.2l-1.9,-2.2v-2.6zM372.9,322h3.2l1.9,2.2v2.6l-1.9,2.2h-3.2l-1.9,-2.2v-2.6zM428.9,318h3.2l1.9,2.2v2.6l-1.9,2.2h-3.2l-1.9,-2.2v-2.6zM484.9,240h3.2l1.9,2.2v2.6l-1.9,2.2h-3.2l-1.9,-2.2v-2.6zM540.9,399h3.2l1.9,2.2v2.6l-1.9,2.2h-3.2l-1.9,-2.2v-2.6zM596.9,407h3.2l1.9,2.2v2.6l-1.9,2.2h-3.2l-1.9,-2.2v-2.6zM652.9,454h3.2l1.9,2.2v2.6l-1.9,2.2h-3.2l-1.9,-2.2v-2.6zM708.9,470h3.2l1.9,2.2v2.6l-1.9,2.2h-3.2l-1.9,-2.2v-2.6zM764.9,458h3.2l1.9,2.2v2.6l-1.9,2.2h-3.2l-1.9,-2.2v-2.6zM820.9,490h3.2l1.9,2.2v2.6l-1.9,2.2h-3.2l-1.9,-2.2v-2.6zM876.9,464h3.2l1.9,2.2v2.6l-1.9,2.2h-3.2l-1.9,-2.2v-2.6zM932.9,452h3.2l1.9,2.2v2.6l-1.9,2.2h-3.2l-1.9,-2.2v-2.6zM987.9,463h3.2l1.9,2.2v2.6l-1.9,2.2h-3.2l-1.9,-2.2v-2.6zM1043.9,527h3.2l1.9,2.2v2.6l-1.9,2.2h-3.2l-1.9,-2.2v-2.6zM1099.9,548h3.2l1.9,2.2v2.6l-1.9,2.2h-3.2l-1.9,-2.2v-2.6z"/>
</g>
<rect x="198.5" y="748.5" width="725" height="38" fill="#fff" stroke="#000" stroke-width="1" shape-rendering="crispEdges"/>
<g stroke="#FF0000" fill="#FF0000"><path d="M225,759.5H261" stroke-width="1" fill="none"/>
<path class="m" d="M227.9,756h3.2l1.9,2.2v2.6l-1.9,2.2h-3.2l-1.9,-2.2v-2.6zM241.9,756h3.2l1.9,2.2v2.6l-1.9,2.2h-3.2l-1.9,-2.2v-2.6zM255.9,756h3.2l1.9,2.2v2.6l-1.9,2.2h-3.2l-1.9,-2.2v-2.6z"/>
</g>
<text x="268" y="764" style="letter-spacing:0.19px">Gennemsnit</text>
<g stroke="#0A8686" fill="#0A8686"><path d="M368,759.5H404" stroke-width="1" fill="none"/>
<path class="m" d="M370.9,756h3.2l1.9,2.2v2.6l-1.9,2.2h-3.2l-1.9,-2.2v-2.6zM384.9,756h3.2l1.9,2.2v2.6l-1.9,2.2h-3.2l-1.9,-2.2v-2.6zM398.9,756h3.2l1.9,2.2v2.6l-1.9,2.2h-3.2l-1.9,-2.2v-2.6z"/>
</g>
<text x="410.4" y="764">10% percentil</text>
<g stroke="#9A283C" fill="#9A283C"><path d="M510,759.5H546" stroke-width="1" fill="none"/>
<path class="m" d="M512.9,756h3.2l1.9,2.2v2.6l-1.9,2.2h-3.2l-1.9,-2.2v-2.6zM526.9,756h3.2l1.9,2.2v2.6l-1.9,2.2h-3.2l-1.9,-2.2v-2.6zM540.9,756h3.2l1.9,2.2v2.6l-1.9,2.2h-3.2l-1.9,-2.2v-2.6z"/>
</g>
<text x="552.5" y="764">20% percentil</text>
<g stroke="#3C3C78" fill="#3C3C78"><path d="M652,759.5H688" stroke-width="1" fill="none"/>
<path class="m" d="M654.9,756h3.2l1.9,2.2v2.6l-1.9,2.2h-3.2l-1.9,-2.2v-2.6zM668.9,756h3.2l1.9,2.2v2.6l-1.9,2.2h-3.2l-1.9,-2.2v-2.6zM682.9,756h3.2l1.9,2.2v2.6l-1.9,2.2h-3.2l-1.9,-2.2v-2.6z"/>
</g>
<text x="695" y="764">30% percentil</text>
<g stroke="#FF69B4" fill="#FF69B4"><path d="M795,759.5H831" stroke-width="1" fill="none"/>
<path class="m" d="M797.9,756h3.2l1.9,2.2v2.6l-1.9,2.2h-3.2l-1.9,-2.2v-2.6zM811.9,756h3.2l1.9,2.2v2.6l-1.9,2.2h-3.2l-1.9,-2.2v-2.6zM825.9,756h3.2l1.9,2.2v2.6l-1.9,2.2h-3.2l-1.9,-2.2v-2.6z"/>
</g>
<text x="837.5" y="764">40% percentil</text>
<g stroke="#008000" fill="#008000"><path d="M225,773.5H261" stroke-width="1" fill="none"/>
<path class="m" d="M227.9,770h3.2l1.9,2.2v2.6l-1.9,2.2h-3.2l-1.9,-2.2v-2.6zM241.9,770h3.2l1.9,2.2v2.6l-1.9,2.2h-3.2l-1.9,-2.2v-2.6zM255.9,770h3.2l1.9,2.2v2.6l-1.9,2.2h-3.2l-1.9,-2.2v-2.6z"/>
</g>
<text x="268" y="778">50% percentil</text>
<g stroke="#000000" fill="#000000"><path d="M368,773.5H404" stroke-width="1" fill="none"/>
<path class="m" d="M370.9,770h3.2l1.9,2.2v2.6l-1.9,2.2h-3.2l-1.9,-2.2v-2.6zM384.9,770h3.2l1.9,2.2v2.6l-1.9,2.2h-3.2l-1.9,-2.2v-2.6zM398.9,770h3.2l1.9,2.2v2.6l-1.9,2.2h-3.2l-1.9,-2.2v-2.6z"/>
</g>
<text x="410.4" y="778">60% percentil</text>
<g stroke="#0000FF" fill="#0000FF"><path d="M510,773.5H546" stroke-width="1" fill="none"/>
<path class="m" d="M512.9,770h3.2l1.9,2.2v2.6l-1.9,2.2h-3.2l-1.9,-2.2v-2.6zM526.9,770h3.2l1.9,2.2v2.6l-1.9,2.2h-3.2l-1.9,-2.2v-2.6zM540.9,770h3.2l1.9,2.2v2.6l-1.9,2.2h-3.2l-1.9,-2.2v-2.6z"/>
</g>
<text x="552.5" y="778">70% percentil</text>
<g stroke="#93CA2A" fill="#93CA2A"><path d="M652,773.5H688" stroke-width="1" fill="none"/>
<path class="m" d="M654.9,770h3.2l1.9,2.2v2.6l-1.9,2.2h-3.2l-1.9,-2.2v-2.6zM668.9,770h3.2l1.9,2.2v2.6l-1.9,2.2h-3.2l-1.9,-2.2v-2.6zM682.9,770h3.2l1.9,2.2v2.6l-1.9,2.2h-3.2l-1.9,-2.2v-2.6z"/>
</g>
<text x="695" y="778">80% percentil</text>
<g stroke="#FFE4C4" fill="#FFE4C4"><path d="M795,773.5H831" stroke-width="1" fill="none"/>
<path class="m" d="M797.9,770h3.2l1.9,2.2v2.6l-1.9,2.2h-3.2l-1.9,-2.2v-2.6zM811.9,770h3.2l1.9,2.2v2.6l-1.9,2.2h-3.2l-1.9,-2.2v-2.6zM825.9,770h3.2l1.9,2.2v2.6l-1.9,2.2h-3.2l-1.9,-2.2v-2.6z"/>
</g>
<text x="837.5" y="778">90% percentil</text>
</svg>
</body></html>
